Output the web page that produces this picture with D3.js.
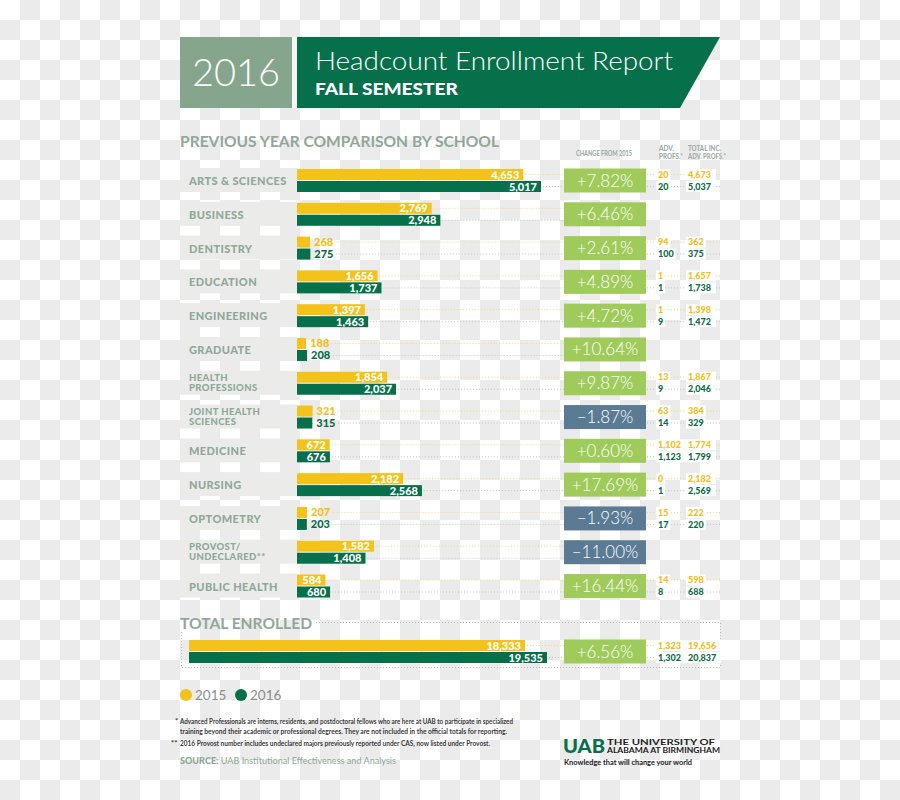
<!DOCTYPE html>
<html><head><meta charset="utf-8">
<script src="https://cdn.jsdelivr.net/npm/d3@7"></script>
<style>
html,body{margin:0;padding:0;background:#fff;}
svg{display:block;}
text{font-family:Lato,"Open Sans",sans-serif;}
</style></head>
<body>
<script>
// ---------- DATA ----------
const schools = ["ARTS & SCIENCES","BUSINESS","DENTISTRY","EDUCATION","ENGINEERING","GRADUATE","HEALTH PROFESSIONS","JOINT HEALTH SCIENCES","MEDICINE","NURSING","OPTOMETRY","PROVOST/ UNDECLARED**","PUBLIC HEALTH"];
const schoolLines = [["ARTS & SCIENCES"],["BUSINESS"],["DENTISTRY"],["EDUCATION"],["ENGINEERING"],["GRADUATE"],["HEALTH","PROFESSIONS"],["JOINT HEALTH","SCIENCES"],["MEDICINE"],["NURSING"],["OPTOMETRY"],["PROVOST/","UNDECLARED**"],["PUBLIC HEALTH"]];
const enroll2015 = [4653,2769,268,1656,1397,188,1854,321,672,2182,207,1582,584];
const enroll2016 = [5017,2948,275,1737,1463,208,2037,315,676,2568,203,1408,680];
const changePct = [7.82,6.46,2.61,4.89,4.72,10.64,9.87,-1.87,0.60,17.69,-1.93,-11.00,16.44];
const adv2015 = [20,null,94,1,1,null,13,63,1102,0,15,null,14];
const adv2016 = [20,null,100,1,9,null,9,14,1123,1,17,null,8];
const totInc2015 = [4673,null,362,1657,1398,null,1867,384,1774,2182,222,null,598];
const totInc2016 = [5037,null,375,1738,1472,null,2046,329,1799,2569,220,null,688];
const totalEnrolled = [18333,19535];
const totalChange = 6.56;
const totalAdv = [1323,1302];
const totalInc = [19656,20837];
const years = ["2015","2016"];
const footnotes = [
 "Advanced Professionals are interns, residents, and postdoctoral fellows who are here at UAB to participate in specialized",
 "training beyond their academic or professional degrees. They are not included in the official totals for reporting.",
 "2016 Provost number includes undeclared majors previously reported under CAS, now listed under Provost."
];

// ---------- STYLE ----------
const C = {y15:"#f3c31a", g16:"#05704a", grey:"#8fa898", pos:"#9fcb5b", neg:"#5b7b95",
  hdrGrey:"#86a58d", y15txt:"#f2be16", g16txt:"#0a6e48", box:"#ebecea"};
const fmt = d3.format(",");
const pctFmt = v => (v<0 ? "\u2013" + Math.abs(v).toFixed(2) : "+" + v.toFixed(2)) + "%";

const svg = d3.select("body").append("svg").attr("width",900).attr("height",800);

// checkerboard background
const defs = svg.append("defs");
const pat = defs.append("pattern").attr("id","chk").attr("width",40).attr("height",40).attr("patternUnits","userSpaceOnUse");
pat.append("rect").attr("width",40).attr("height",40).attr("fill","#ffffff");
pat.append("rect").attr("x",20).attr("y",0).attr("width",20).attr("height",20).attr("fill","#ebebeb");
pat.append("rect").attr("x",0).attr("y",20).attr("width",20).attr("height",20).attr("fill","#ebebeb");
svg.append("rect").attr("width",900).attr("height",800).attr("fill","url(#chk)");

// ---------- HEADER ----------
svg.append("rect").attr("x",180).attr("y",37).attr("width",112).attr("height",71).attr("fill",C.hdrGrey);
svg.append("rect").attr("x",292).attr("y",37).attr("width",5).attr("height",71).attr("fill","#f4f6f4");
svg.append("path").attr("d","M297,37 L720,37 L680,108 L297,108 Z").attr("fill",C.g16);
svg.append("text").attr("x",236).attr("y",86).attr("text-anchor","middle").attr("fill","#fff")
  .attr("font-size",38).attr("font-weight",300).text("2016");
svg.append("text").attr("x",315).attr("y",70).attr("fill","#fff").attr("font-size",26).attr("font-weight",300)
  .attr("textLength",358).attr("lengthAdjust","spacingAndGlyphs").text("Headcount Enrollment Report");
svg.append("text").attr("x",315).attr("y",95).attr("fill","#fff").attr("font-size",16).attr("font-weight",900)
  .attr("textLength",143).attr("lengthAdjust","spacingAndGlyphs").text("FALL SEMESTER");

svg.append("text").attr("x",180).attr("y",147).attr("fill",C.grey).attr("font-size",15).attr("font-weight",700)
  .attr("textLength",319).attr("lengthAdjust","spacingAndGlyphs").text("PREVIOUS YEAR COMPARISON BY SCHOOL");

// column headers
const hdr = svg.append("g").attr("fill","#a3aba6").attr("font-size",7).attr("font-weight",900);
hdr.append("text").attr("x",604).attr("y",156).attr("text-anchor","middle").attr("textLength",56).attr("lengthAdjust","spacingAndGlyphs").text("CHANGE FROM 2015");
hdr.append("text").attr("x",659).attr("y",151).attr("textLength",15).attr("lengthAdjust","spacingAndGlyphs").text("ADV.");
hdr.append("text").attr("x",659).attr("y",159).attr("textLength",24).attr("lengthAdjust","spacingAndGlyphs").text("PROFS.*");
hdr.append("text").attr("x",688).attr("y",151).attr("textLength",33).attr("lengthAdjust","spacingAndGlyphs").text("TOTAL INC.");
hdr.append("text").attr("x",688).attr("y",159).attr("textLength",38).attr("lengthAdjust","spacingAndGlyphs").text("ADV. PROFS.*");

// ---------- SCALES ----------
const x = d3.scaleLinear().domain([0,5017]).range([297,541]);
const y = d3.scalePoint().domain(schools).range([180.5,586]);
const rows = schools.map((s,i)=>({s,i,lines:schoolLines[i],v15:enroll2015[i],v16:enroll2016[i],ch:changePct[i],
  a15:adv2015[i],a16:adv2016[i],t15:totInc2015[i],t16:totInc2016[i],c:y(s)}));

const boxX0 = 564, boxX1 = 646;

function drawRow(g, d, xs, x0){
  const c = d.c;
  const vals = [d.v15,d.v16];
  vals.forEach((v,k)=>{
    const w = xs(v)-x0;
    const inside = w>25;
    const endTxt = inside ? xs(v)+2 : xs(v)+4+String(fmt(v)).length*6.5+2;
    const ly = k===0 ? c-6 : c+6;
    g.append("line").attr("x1",endTxt).attr("x2",boxX0).attr("y1",ly).attr("y2",ly)
      .attr("stroke",k===0?"#f3d878":"#c4c8c5").attr("stroke-width",1).attr("stroke-dasharray","1,2");
    if(d.a15!==null && d.a15!==undefined){
      g.append("line").attr("x1",boxX1+1).attr("x2",720).attr("y1",ly).attr("y2",ly)
        .attr("stroke",k===0?"#f3d878":"#c4c8c5").attr("stroke-width",1).attr("stroke-dasharray","1,2");
    }
  });
  vals.forEach((v,k)=>{
    const by = k===0 ? c-11.5 : c+0.5;
    g.append("rect").attr("x",x0).attr("y",by).attr("width",xs(v)-x0).attr("height",11)
      .attr("fill",k===0?C.y15:C.g16);
    const w = xs(v)-x0;
    const t = g.append("text").attr("y",by+9.5).attr("font-size",11).attr("font-weight",900).text(fmt(v));
    if(w>25){ t.attr("x",xs(v)-4).attr("text-anchor","end").attr("fill","#fff"); }
    else { t.attr("x",xs(v)+4).attr("fill",k===0?C.y15txt:C.g16txt); }
  });
  g.append("rect").attr("x",boxX0).attr("y",c-12).attr("width",boxX1-boxX0).attr("height",24)
    .attr("fill", d.ch<0?C.neg:C.pos);
  g.append("text").attr("x",(boxX0+boxX1)/2).attr("y",c+6).attr("text-anchor","middle")
    .attr("fill","#fff").attr("font-size",17).attr("font-weight",300).text(pctFmt(d.ch));
  if(d.a15!==null && d.a15!==undefined){
    [[d.a15,d.t15,c-6,C.y15txt],[d.a16,d.t16,c+6,C.g16txt]].forEach(([a,t,ly,col])=>{
      const fs = 9;
      const aw = fmt(a).length*5.2+4, tw = fmt(t).length*5.2+4;
      g.append("rect").attr("x",656).attr("y",ly-5.5).attr("width",aw).attr("height",11).attr("fill","#fff");
      g.append("rect").attr("x",686).attr("y",ly-5.5).attr("width",tw).attr("height",11).attr("fill","#fff");
      g.append("text").attr("x",658).attr("y",ly+3.2).attr("fill",col).attr("font-size",fs).attr("font-weight",900).text(fmt(a));
      g.append("text").attr("x",688).attr("y",ly+3.2).attr("fill",col).attr("font-size",fs).attr("font-weight",900).text(fmt(t));
    });
  }
}

const rowG = svg.append("g");
rows.forEach(d=>{
  rowG.append("rect").attr("x",180).attr("y",d.c-12.5).attr("width",117).attr("height",24).attr("fill",C.box);
  const n = d.lines.length;
  d.lines.forEach((ln,j)=>{
    const by = n===1 ? d.c+4.5 : d.c-2.5 + j*10.5;
    rowG.append("text").attr("x",189).attr("y",by).attr("fill",C.grey).attr("font-size",n===1?11:9.5)
      .attr("font-weight",900).attr("letter-spacing",0.4).text(ln);
  });
  drawRow(rowG,d,x,297);
});

// ---------- TOTAL ----------
const xt = d3.scaleLinear().domain([0,totalEnrolled[1]]).range([189,547]);
const tg = svg.append("g");
tg.append("path").attr("d","M316,622.5 L720.5,622.5 L720.5,667.5 L181.5,667.5 L181.5,632")
  .attr("fill","none").attr("stroke","#b9bfbb").attr("stroke-width",1).attr("stroke-dasharray","1,2");
tg.append("text").attr("x",180).attr("y",629).attr("fill",C.grey).attr("font-size",15).attr("font-weight",700)
  .attr("textLength",132).attr("lengthAdjust","spacingAndGlyphs").text("TOTAL ENROLLED");
const totRow = {v15:totalEnrolled[0],v16:totalEnrolled[1],ch:totalChange,a15:totalAdv[0],a16:totalAdv[1],
  t15:totalInc[0],t16:totalInc[1],c:651.5};
drawRow(tg,totRow,xt,189);

// ---------- LEGEND ----------
const lg = svg.append("g");
years.forEach((yr,k)=>{
  const lx = 186 + k*55;
  lg.append("circle").attr("cx",lx).attr("cy",695).attr("r",6).attr("fill",k===0?C.y15:C.g16);
  lg.append("text").attr("x",lx+9).attr("y",700).attr("fill","#8c8c8c").attr("font-size",13.5).attr("font-weight",400).text(yr);
});

// ---------- FOOTNOTES ----------
const fg = svg.append("g").attr("fill","#3a3a3a").attr("font-size",7.5).attr("font-weight",700);
fg.append("text").attr("x",175).attr("y",724).text("*");
fg.append("text").attr("x",180).attr("y",724).attr("textLength",333).attr("lengthAdjust","spacingAndGlyphs").text(footnotes[0]);
fg.append("text").attr("x",180).attr("y",734).attr("textLength",327).attr("lengthAdjust","spacingAndGlyphs").text(footnotes[1]);
fg.append("text").attr("x",171).attr("y",746).text("**");
fg.append("text").attr("x",180).attr("y",746).attr("textLength",310).attr("lengthAdjust","spacingAndGlyphs").text(footnotes[2]);
const src = svg.append("text").attr("x",180).attr("y",764).attr("font-size",9.5).attr("fill",C.grey)
  .attr("textLength",216).attr("lengthAdjust","spacingAndGlyphs");
src.append("tspan").attr("font-weight",900).text("SOURCE:");
src.append("tspan").attr("font-weight",400).text(" UAB Institutional Effectiveness and Analysis");

// ---------- UAB LOGO ----------
const ug = svg.append("g");
ug.append("text").attr("x",563).attr("y",752.5).attr("fill",C.g16).attr("font-size",19).attr("font-weight",900)
  .attr("font-family","'DejaVu Sans',sans-serif")
  .attr("textLength",42).attr("lengthAdjust","spacingAndGlyphs").text("UAB");
ug.append("text").attr("x",607).attr("y",744.5).attr("fill","#222").attr("font-size",8).attr("font-weight",700)
  .attr("textLength",108).attr("lengthAdjust","spacingAndGlyphs").text("THE UNIVERSITY OF");
ug.append("text").attr("x",607).attr("y",753).attr("fill","#222").attr("font-size",8).attr("font-weight",700)
  .attr("textLength",113).attr("lengthAdjust","spacingAndGlyphs").text("ALABAMA AT BIRMINGHAM");
ug.append("text").attr("x",564).attr("y",764.5).attr("fill","#222").attr("font-size",6.8).attr("font-weight",700)
  .attr("textLength",128).attr("lengthAdjust","spacingAndGlyphs").text("Knowledge that will change your world");
</script>
</body></html>
